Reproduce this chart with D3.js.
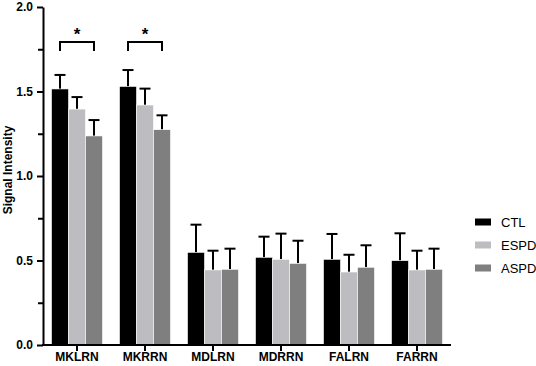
<!DOCTYPE html>
<html>
<head>
<meta charset="utf-8">
<script src="https://cdn.jsdelivr.net/npm/d3@7"></script>
<style>
  body { margin: 0; background: #fff; }
  svg { display: block; font-family: "Liberation Sans", Arial, sans-serif; }
</style>
</head>
<body>
<div id="container"></div>
<script>
// regions and groups
const regions = ["MKLRN", "MKRRN", "MDLRN", "MDRRN", "FALRN", "FARRN"];
const groups = ["CTL", "ESPD", "ASPD"];
const colors = ["#000000", "#bdbdc1", "#7f7f7f"];

// mean values
const ctlMean  = [1.515, 1.53, 0.548, 0.519, 0.507, 0.499];
const espdMean = [1.396, 1.42, 0.444, 0.507, 0.432, 0.444];
const aspdMean = [1.237, 1.274, 0.448, 0.483, 0.46, 0.448];

// upper error bar tops
const ctlErr  = [1.598, 1.627, 0.712, 0.641, 0.657, 0.661];
const espdErr = [1.467, 1.517, 0.558, 0.659, 0.534, 0.558];
const aspdErr = [1.331, 1.359, 0.570, 0.617, 0.590, 0.570];

const yTicks = [0, 0.5, 1.0, 1.5, 2.0];
const yMinor = [0.25, 0.75, 1.25, 1.75];

// significance brackets (CTL vs ASPD)
const sigRegions = ["MKLRN", "MKRRN"];
const bracketTop = 1.793;
const bracketEnd = 1.74;
const starLevel = 1.86;

const means = [ctlMean, espdMean, aspdMean];
const errs = [ctlErr, espdErr, aspdErr];

const width = 536, height = 366;
const svg = d3.select("#container").append("svg")
    .attr("width", width).attr("height", height);

const x0 = d3.scaleBand().domain(regions).range([43, 451])
    .paddingInner(0.25).paddingOuter(0.125);
const x1 = d3.scaleBand().domain(groups).range([0, x0.bandwidth()]);
const y = d3.scaleLinear().domain([0, 2]).range([345, 7]);

let bars = [];
regions.forEach((r, i) => {
    groups.forEach((g, j) => {
        bars.push({region: r, group: g, value: means[j][i], err: errs[j][i], color: colors[j]});
    });
});

const bar = svg.append("g").selectAll("g")
    .data(bars).enter().append("g");

// error bars first so the bar covers the line stub
const capW = 11;
bar.append("line")
    .attr("x1", d => x0(d.region) + x1(d.group) + x1.bandwidth() / 2)
    .attr("x2", d => x0(d.region) + x1(d.group) + x1.bandwidth() / 2)
    .attr("y1", d => y(d.value))
    .attr("y2", d => y(d.err))
    .attr("stroke", "#000").attr("stroke-width", 2);
bar.append("line")
    .attr("x1", d => x0(d.region) + x1(d.group) + x1.bandwidth() / 2 - capW / 2)
    .attr("x2", d => x0(d.region) + x1(d.group) + x1.bandwidth() / 2 + capW / 2)
    .attr("y1", d => y(d.err))
    .attr("y2", d => y(d.err))
    .attr("stroke", "#000").attr("stroke-width", 2);

bar.append("rect")
    .attr("x", d => x0(d.region) + x1(d.group))
    .attr("y", d => y(d.value))
    .attr("width", x1.bandwidth())
    .attr("height", d => y(0) - y(d.value))
    .attr("fill", d => d.color)
    .attr("stroke", "#fff").attr("stroke-width", 0.6);

// brackets
sigRegions.forEach(r => {
    const xa = x0(r) + x1("CTL") + x1.bandwidth() / 2;
    const xb = x0(r) + x1("ASPD") + x1.bandwidth() / 2;
    svg.append("path")
        .attr("d", d3.line()([[xa, y(bracketEnd)], [xa, y(bracketTop)], [xb, y(bracketTop)], [xb, y(bracketEnd)]]))
        .attr("fill", "none").attr("stroke", "#000").attr("stroke-width", 2);
    svg.append("text")
        .attr("x", (xa + xb) / 2).attr("y", y(starLevel) + 9)
        .attr("text-anchor", "middle")
        .attr("font-size", 17).attr("font-weight", "bold")
        .text("*");
});

// y axis
const yAxis = svg.append("g").attr("transform", "translate(43,0)")
    .call(d3.axisLeft(y).tickValues(yTicks).tickFormat(d3.format(".1f")).tickSize(6).tickSizeOuter(0));
svg.append("g").attr("transform", "translate(43,0)")
    .call(d3.axisLeft(y).tickValues(yMinor).tickFormat("").tickSize(5).tickSizeOuter(0))
    .select(".domain").remove();
yAxis.selectAll("text").attr("font-size", 12).attr("font-weight", "bold")
    .attr("font-family", "Liberation Sans, Arial, sans-serif").attr("fill", "#000").attr("dx", "-1");
svg.selectAll(".domain, .tick line").attr("stroke", "#000").attr("stroke-width", 2);

// x axis
const xAxis = svg.append("g").attr("transform", "translate(0,345)")
    .call(d3.axisBottom(x0).tickSize(6).tickSizeOuter(0));
xAxis.select(".domain").attr("stroke", "#000").attr("stroke-width", 2)
    .attr("d", "M42,0H451");
xAxis.selectAll(".tick line").attr("stroke", "#000").attr("stroke-width", 2);
xAxis.selectAll("text").attr("font-size", 12).attr("font-weight", "bold")
    .attr("font-family", "Liberation Sans, Arial, sans-serif").attr("fill", "#000").attr("dy", "0.55em");

svg.append("text")
    .attr("transform", "translate(12,170) rotate(-90)")
    .attr("text-anchor", "middle")
    .attr("font-size", 12).attr("font-weight", "bold")
    .text("Signal Intensity");

// legend
const legend = svg.append("g").selectAll("g")
    .data(groups).enter().append("g")
    .attr("transform", (d, i) => `translate(475,${222 + i * 23})`);
legend.append("rect")
    .attr("x", 0).attr("y", -3.5).attr("width", 16).attr("height", 7)
    .attr("fill", (d, i) => colors[i]);
legend.append("text")
    .attr("x", 26).attr("y", 0).attr("dy", "0.35em")
    .attr("font-size", 13)
    .text(d => d);
</script>
</body>
</html>
